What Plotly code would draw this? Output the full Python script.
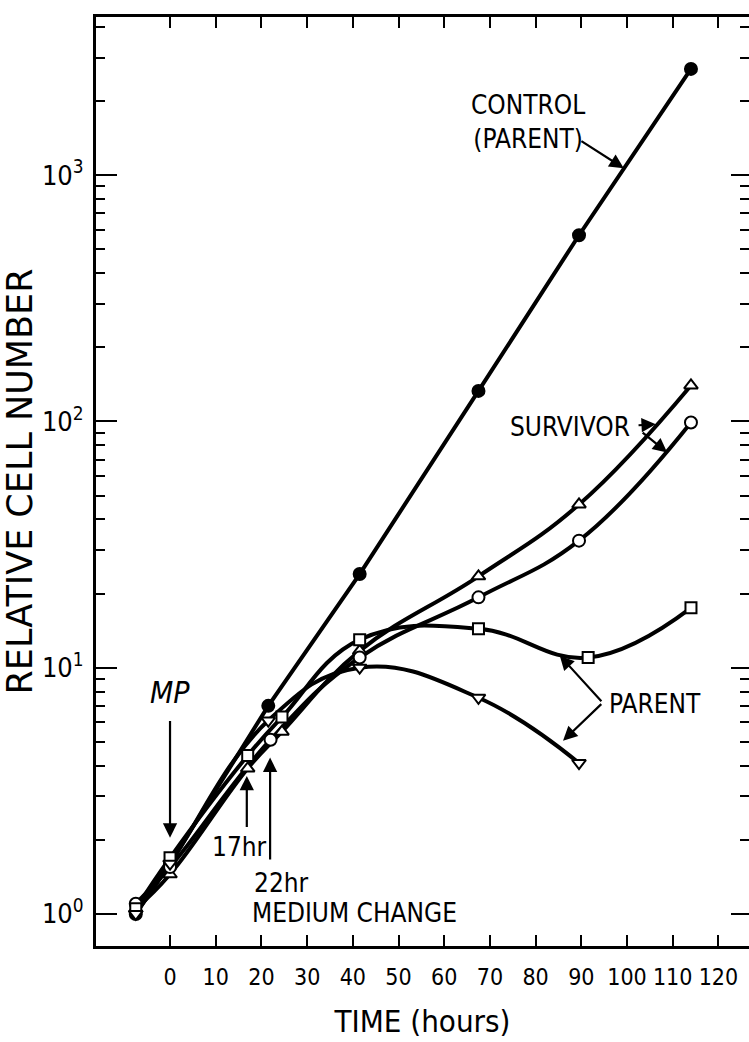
import math
import plotly.graph_objects as go

# Growth of cultures: time in hours, relative cell number (log scale)
t_control = [-7.5, 0, 21.5, 41.5, 67.5, 89.5, 114]
n_control = [1.0, 1.6, 7.0, 24, 133, 570, 2700]

t_surv_tri = [-7.5, 0, 17, 24.5, 41.5, 67.5, 89.5, 114]
n_surv_tri = [1.05, 1.45, 3.9, 5.5, 11.7, 23.5, 46, 140]

t_surv_circ = [-7.5, 0, 22, 41.5, 67.5, 89.5, 114]
n_surv_circ = [1.1, 1.55, 5.1, 11.0, 19.3, 32.8, 99]

t_par_sq = [-7.5, 0, 17, 24.5, 41.5, 67.5, 91.5, 114]
n_par_sq = [1.05, 1.69, 4.4, 6.3, 13.0, 14.4, 11.0, 17.5]

t_par_tri = [-7.5, 0, 21.5, 41.5, 67.5, 89.5]
n_par_tri = [1.0, 1.6, 6.1, 10.0, 7.55, 4.1]

x_ticks = list(range(0, 121, 10))
y_major = [1, 10, 100, 1000]
y_major_text = ["10<sup>0</sup>", "10<sup>1</sup>", "10<sup>2</sup>", "10<sup>3</sup>"]
y_minor = [m * 10 ** k for k in range(0, 4) for m in range(2, 10)]

X_RANGE = [-16.2, 126.7]
Y_RANGE = [-0.13, 3.642]

FONT = "Liberation Sans Narrow, DejaVu Sans Condensed, Roboto, sans-serif"
TITLE_FONT = "DejaVu Sans, Verdana, sans-serif"

series = [
    (t_control, n_control, "circle", "black", "linear"),
    (t_surv_tri, n_surv_tri, "triangle-up", "white", "spline"),
    (t_surv_circ, n_surv_circ, "circle", "white", "spline"),
    (t_par_sq, n_par_sq, "square", "white", "spline"),
    (t_par_tri, n_par_tri, "triangle-down", "white", "spline"),
]

fig = go.Figure()

# curves first so that every marker sits on top of all lines
for t, n, _, _, shape in series:
    fig.add_trace(go.Scatter(
        x=t, y=n, mode="lines",
        line=dict(color="black", width=4, shape=shape, smoothing=1.2),
        hoverinfo="skip", showlegend=False,
    ))

for t, n, sym, fill, _ in series:
    fig.add_trace(go.Scatter(
        x=t, y=n, mode="markers",
        marker=dict(symbol=sym, size=12 if sym != "square" else 11, color=fill,
                    line=dict(color="black", width=2)),
        showlegend=False,
    ))

# transparent trace that carries the mirrored top / right axes
fig.add_trace(go.Scatter(
    x=t_control, y=n_control, xaxis="x2", yaxis="y2", mode="markers",
    marker=dict(opacity=0), hoverinfo="skip", showlegend=False,
))

# pointer arrows: (tail time, tail value, tip time, tip value)
arrows = [
    (89.7, 10 ** 3.142, 99.3, 10 ** 3.028),   # CONTROL (PARENT)
    (102.2, 10 ** 1.984, 106.3, 10 ** 1.988),  # SURVIVOR -> triangles
    (103.1, 10 ** 1.959, 108.8, 10 ** 1.874),  # SURVIVOR -> circles
    (94.7, 10 ** 0.858, 85.3, 10 ** 1.049),    # PARENT -> squares
    (94.7, 10 ** 0.858, 86.0, 10 ** 0.703),    # PARENT -> inverted triangles
    (0, 10 ** 0.79, 0, 10 ** 0.31),            # MP
    (16.8, 10 ** 0.347, 16.8, 10 ** 0.56),     # 17hr
    (21.9, 10 ** 0.215, 21.9, 10 ** 0.635),    # 22hr
]


def arrow(x0, v0, x1, v1):
    return dict(
        x=x1, y=math.log10(v1), ax=x0, ay=math.log10(v0),
        xref="x", yref="y", axref="x", ayref="y",
        text="", showarrow=True, arrowhead=2, arrowsize=1.3,
        arrowwidth=2.2, arrowcolor="black",
    )


def label(x, v, text, size=26, xanchor="center", italic=False):
    return dict(
        x=x, y=math.log10(v), xref="x", yref="y", text=text,
        showarrow=False, xanchor=xanchor, yanchor="middle",
        font=dict(family=FONT, size=size, color="black",
                  style="italic" if italic else "normal"),
    )


annotations = [arrow(*a) for a in arrows] + [
    label(78.3, 10 ** 3.215, "CONTROL<br>(PARENT)"),
    label(101.1, 10 ** 1.976, "SURVIVOR", xanchor="right"),
    label(95.6, 10 ** 0.854, "PARENT", xanchor="left"),
    label(0, 10 ** 0.90, "MP", size=30, italic=True),
    label(15.3, 10 ** 0.27, "17hr"),
    label(24.5, 10 ** 0.125, "22hr"),
    label(17.5, 10 ** 0.005, "MEDIUM CHANGE", xanchor="left"),
]

axis_common = dict(
    showgrid=False, zeroline=False, linecolor="black",
    tickcolor="black", automargin=False,
)

fig.update_layout(
    width=749, height=1042,
    margin=dict(l=96, r=0, t=17, b=96),
    paper_bgcolor="white", plot_bgcolor="white",
    showlegend=False,
    xaxis=dict(
        **axis_common, range=X_RANGE, showline=True, linewidth=3,
        ticks="inside", ticklen=11, tickwidth=2, tickvals=x_ticks,
        tickangle=0,
        tickfont=dict(family=FONT, size=23, color="black"),
        ticklabelstandoff=8,
        title=dict(text="TIME (hours)", standoff=22,
                   font=dict(family=FONT, size=31, color="black")),
    ),
    xaxis2=dict(
        **axis_common, range=X_RANGE, overlaying="x", side="top", anchor="y",
        showline=True, linewidth=3, ticks="inside", ticklen=11, tickwidth=2,
        tickvals=x_ticks, showticklabels=False,
    ),
    yaxis=dict(
        **axis_common, type="log", range=Y_RANGE, showline=True, linewidth=3,
        ticks="inside", ticklen=21, tickwidth=2,
        tickvals=y_major, ticktext=y_major_text,
        tickfont=dict(family=FONT, size=27, color="black"),
        ticklabelstandoff=4,
        minor=dict(tickvals=y_minor, ticks="inside", ticklen=9, tickwidth=2,
                   tickcolor="black"),
        title=dict(text="RELATIVE CELL NUMBER", standoff=8,
                   font=dict(family=TITLE_FONT, size=35, color="black")),
    ),
    yaxis2=dict(
        **axis_common, type="log", range=Y_RANGE, overlaying="y", side="right",
        anchor="x", showline=False, ticks="inside", ticklen=18, tickwidth=2,
        tickvals=y_major, showticklabels=False,
        minor=dict(tickvals=y_minor, ticks="inside", ticklen=9, tickwidth=2,
                   tickcolor="black"),
    ),
    annotations=annotations,
)

fig.write_html("out.html")
